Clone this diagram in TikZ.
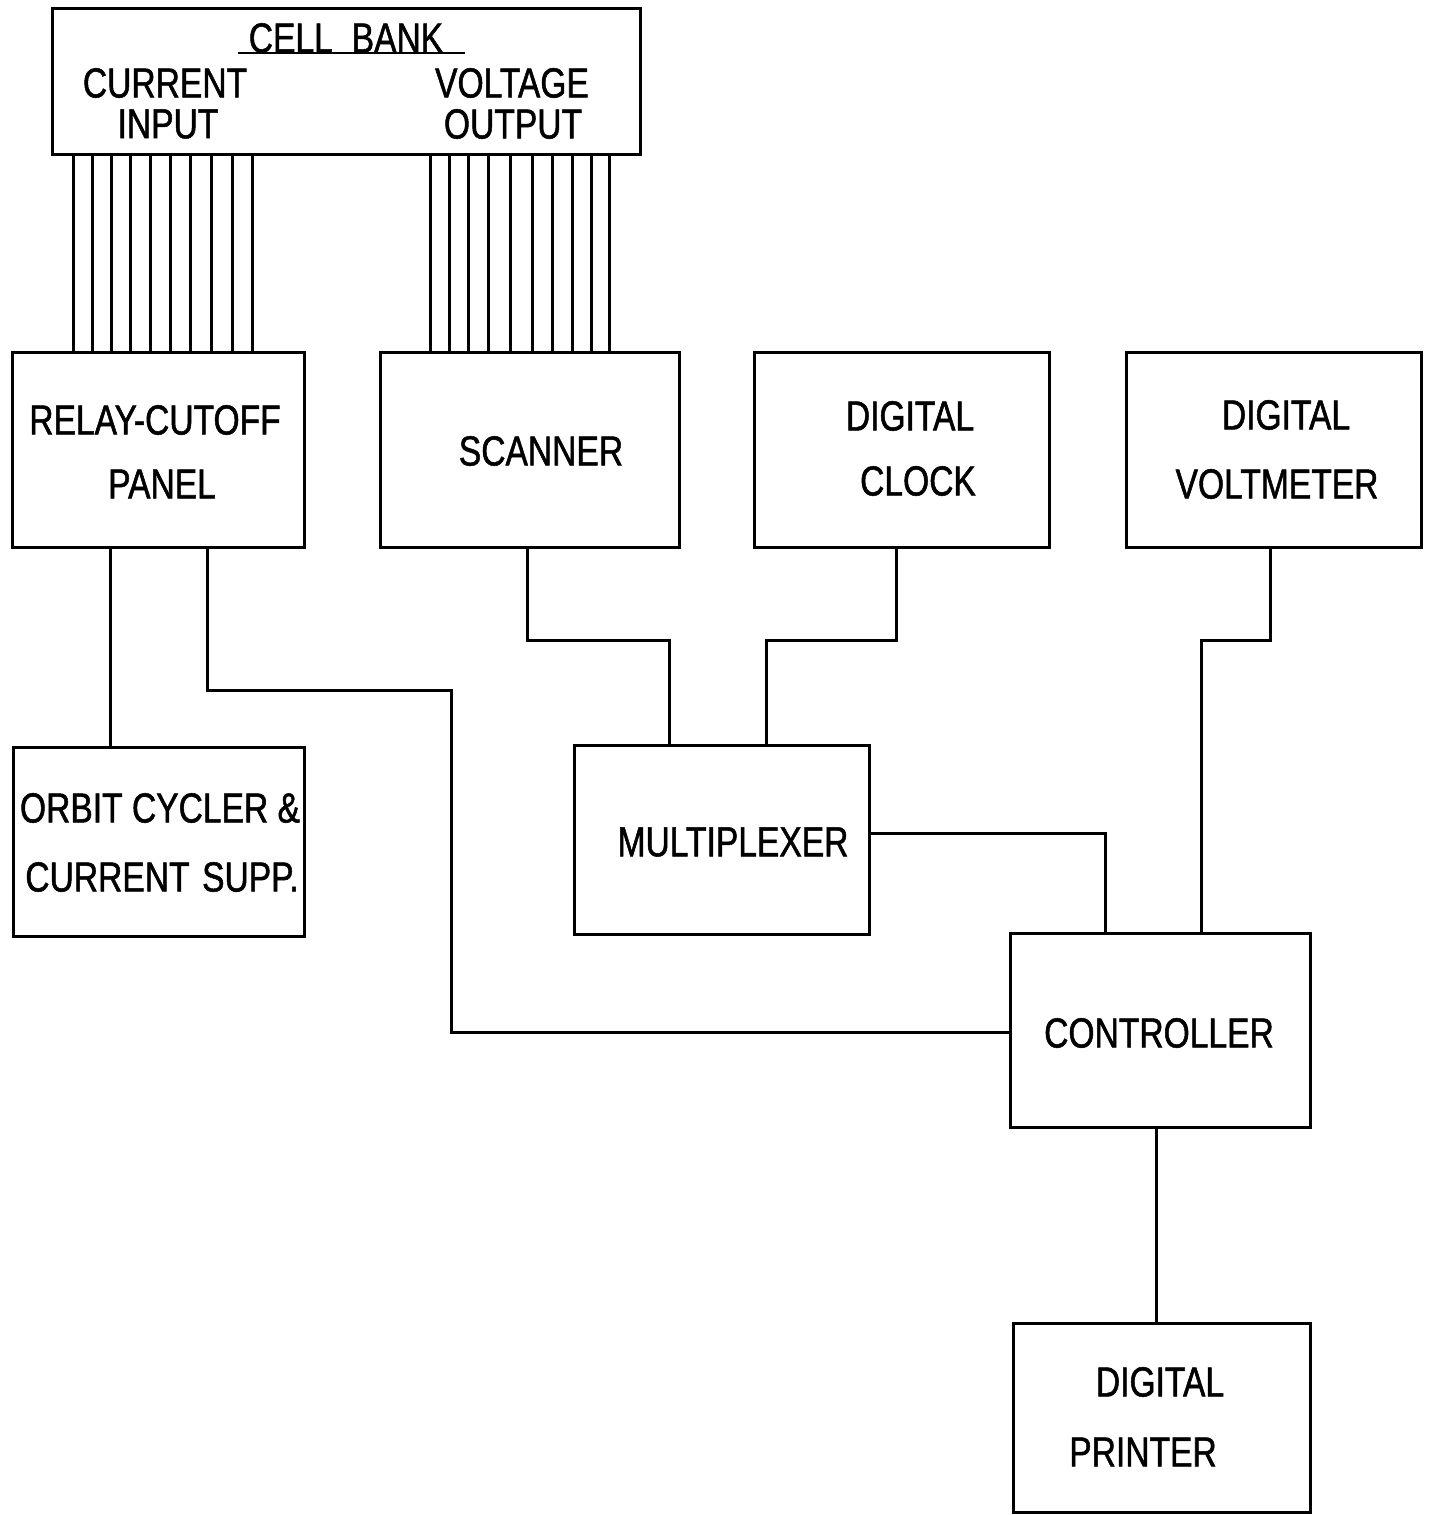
\documentclass[tikz,border=0pt]{standalone}
\usepackage{fontspec}
\setmainfont{Liberation Sans}[FakeStretch=0.8,FakeBold=1.2]
\begin{document}
\begin{tikzpicture}[x=1pt,y=-1pt,
  box/.style={draw, line width=3pt, rectangle, inner sep=0pt},
  wire/.style={line width=3pt},
  lbl/.style={inner sep=0pt, font=\fontsize{42}{44}\selectfont}]
\useasboundingbox (0,0) rectangle (1431,1515);
% boxes
\node[box, minimum width=588, minimum height=146] (cell) at (346,81) {};
\node[box, minimum width=292, minimum height=195] (relay) at (158,449.5) {};
\node[box, minimum width=299, minimum height=195] (scan) at (529.5,449.5) {};
\node[box, minimum width=295, minimum height=195] (clock) at (901.5,449.5) {};
\node[box, minimum width=295, minimum height=195] (dvm) at (1273.5,449.5) {};
\node[box, minimum width=291, minimum height=189] (orbit) at (158.5,841.5) {};
\node[box, minimum width=295, minimum height=189] (mux) at (721.5,839.5) {};
\node[box, minimum width=300, minimum height=194] (ctrl) at (1160,1030) {};
\node[box, minimum width=297, minimum height=189] (prn) at (1161.5,1417.5) {};
% texts
\node[lbl] (t1) at (346,38) {CELL\hspace{0.45em}BANK};
\coordinate (ul1) at (238,53);
\coordinate (ul2) at (465,53);
\draw[line width=2.2pt] (ul1) -- (ul2);
\node[lbl] (t2) at (165,83) {CURRENT};
\node[lbl] (t3) at (168,124) {INPUT};
\node[lbl] (t4) at (512,83) {VOLTAGE};
\node[lbl] (t5) at (513,124) {OUTPUT};
\node[lbl] (t6) at (155,420) {RELAY-CUTOFF};
\node[lbl] (t7) at (162,484) {PANEL};
\node[lbl] (t8) at (541,451) {SCANNER};
\node[lbl] (t9) at (910,416) {DIGITAL};
\node[lbl] (t10) at (918,481) {CLOCK};
\node[lbl] (t11) at (1286,415) {DIGITAL};
\node[lbl] (t12) at (1277,484) {VOLTMETER};
\node[lbl] (t13) at (160,808) {ORBIT CYCLER \&};
\node[lbl] (t14) at (162,877) {CURRENT\hspace{0.3em}SUPP.};
\node[lbl] (t15) at (733,842) {MULTIPLEXER};
\node[lbl] (t16) at (1159,1033) {CONTROLLER};
\node[lbl] (t17) at (1160,1382) {DIGITAL};
\node[lbl] (t18) at (1143,1452) {PRINTER};
% bundles of wires
\foreach \x [count=\i] in {73,92,111,130,150,170,190,211,232,252}{
  \coordinate (la\i) at (\x,0);
  \draw[wire] (cell.south -| la\i) -- (relay.north -| la\i);
}
\foreach \x [count=\i] in {430,449,468,488,510,532,552,572,591,609}{
  \coordinate (lb\i) at (\x,0);
  \draw[wire] (cell.south -| lb\i) -- (scan.north -| lb\i);
}
% connectors
\coordinate (c1) at (110,0);
\draw[wire] (relay.south -| c1) -- (orbit.north -| c1);
\coordinate (c2) at (207,690);
\coordinate (c3) at (451,690);
\coordinate (c4) at (451,1032);
\draw[wire] (relay.south -| c2) -- (c2) -- (c3) -- (c4) -- (ctrl.west |- c4);
\coordinate (s1) at (527,640);
\coordinate (s2) at (669,640);
\draw[wire] (scan.south -| s1) -- (s1) -- (s2) -- (mux.north -| s2);
\coordinate (k1) at (896,640);
\coordinate (k2) at (766,640);
\draw[wire] (clock.south -| k1) -- (k1) -- (k2) -- (mux.north -| k2);
\coordinate (m1) at (1105,833);
\draw[wire] (mux.east |- m1) -- (m1) -- (ctrl.north -| m1);
\coordinate (v1) at (1270,640);
\coordinate (v2) at (1201,640);
\draw[wire] (dvm.south -| v1) -- (v1) -- (v2) -- (ctrl.north -| v2);
\coordinate (p1) at (1156,0);
\draw[wire] (ctrl.south -| p1) -- (prn.north -| p1);
\end{tikzpicture}
\end{document}
